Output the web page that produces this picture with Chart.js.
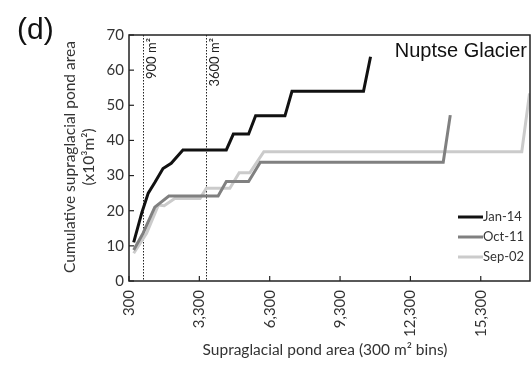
<!DOCTYPE html>
<html>
<head>
<meta charset="utf-8">
<script src="https://cdn.jsdelivr.net/npm/chart.js@4"></script>
<style>
  html, body { margin: 0; padding: 0; background: #fff; }
  canvas { display: block; }
</style>
</head>
<body>
<canvas id="pondChart" width="532" height="365"></canvas>
<script>
// 値は図から読み取ったもの（x: 池面積 m², y: 累積面積 x10³m²）
const janX = [500, 850, 1120, 1400, 1750, 2100, 2600, 4450, 4750, 5400, 5700, 6950, 7250, 10300, 10600];
const janY = [11, 19.5, 25, 28, 32, 33.5, 37.3, 37.3, 41.8, 41.8, 47, 47, 54, 54, 63.8];

const octX = [500, 900, 1400, 2000, 4100, 4450, 5400, 5900, 13700, 14000];
const octY = [8.8, 13.6, 21, 24.2, 24.2, 28.3, 28.3, 33.8, 33.8, 47.2];

const sepX = [500, 1050, 1550, 1800, 2250, 3330, 3600, 4600, 5000, 5450, 6050, 17050, 17380];
const sepY = [7.9, 13.6, 21.6, 21.4, 23.5, 23.5, 26.4, 26.4, 30.8, 30.8, 36.8, 36.8, 53.4];

const seriesNames = ['Jan-14', 'Oct-11', 'Sep-02'];
const xTicks = [300, 3300, 6300, 9300, 12300, 15300];
const refLines = [900, 3600];
const refLabels = ['900 m²', '3600 m²'];

const toPoints = (xs, ys) => xs.map((x, i) => ({ x: x, y: ys[i] }));

const FONT = 'Lato, "Open Sans", sans-serif';

/**
 * 枠線・内側目盛り・参照線・テキスト類
 */
const decorPlugin = {
    id: 'decor',
    beforeDatasetsDraw(chart) {
        const { ctx, chartArea: a, scales } = chart;
        ctx.save();
        // 参照線（点線）
        ctx.strokeStyle = '#222';
        ctx.lineWidth = 1;
        ctx.setLineDash([1.5, 1.5]);
        refLines.forEach(v => {
            const px = Math.round(scales.x.getPixelForValue(v)) + 0.5;
            ctx.beginPath();
            ctx.moveTo(px, a.top);
            ctx.lineTo(px, a.bottom);
            ctx.stroke();
        });
        ctx.setLineDash([]);
        // 参照線ラベル（縦書き）
        ctx.fillStyle = '#222';
        ctx.font = '13px ' + FONT;
        ctx.textAlign = 'right';
        ctx.textBaseline = 'top';
        refLines.forEach((v, i) => {
            const px = scales.x.getPixelForValue(v);
            ctx.save();
            ctx.translate(px + 2, a.top + 3);
            ctx.rotate(-Math.PI / 2);
            ctx.fillText(refLabels[i], 0, 0);
            ctx.restore();
        });
        ctx.restore();
    },
    afterDraw(chart) {
        const { ctx, chartArea: a, scales } = chart;
        ctx.save();
        // 枠
        ctx.strokeStyle = '#222';
        ctx.lineWidth = 1.5;
        ctx.strokeRect(a.left, a.top, a.right - a.left, a.bottom - a.top);
        // 内側の目盛り
        ctx.lineWidth = 1.2;
        xTicks.forEach(v => {
            const px = scales.x.getPixelForValue(v);
            ctx.beginPath();
            ctx.moveTo(px, a.bottom);
            ctx.lineTo(px, a.bottom - 5);
            ctx.stroke();
        });
        scales.y.ticks.forEach(t => {
            const py = scales.y.getPixelForValue(t.value);
            ctx.beginPath();
            ctx.moveTo(a.left, py);
            ctx.lineTo(a.left + 5, py);
            ctx.stroke();
        });

        // パネル記号とタイトル
        ctx.fillStyle = '#111';
        ctx.textBaseline = 'alphabetic';
        ctx.textAlign = 'left';
        ctx.font = '30px "Liberation Sans", Arial, sans-serif';
        ctx.fillText('(d)', 17, 39);
        ctx.textAlign = 'right';
        ctx.font = '20px "Liberation Sans", Arial, sans-serif';
        ctx.fillText('Nuptse Glacier', 527, 57);

        // 軸タイトル
        ctx.fillStyle = '#333';
        ctx.font = '15.5px ' + FONT;
        ctx.textAlign = 'center';
        ctx.textBaseline = 'middle';
        ctx.fillText('Supraglacial pond area (300 m² bins)', 325, 350);
        ctx.save();
        ctx.translate(70, 157);
        ctx.rotate(-Math.PI / 2);
        ctx.fillText('Cumulative supraglacial pond area', 0, 0);
        ctx.fillText('(x10³m²)', 0, 19);
        ctx.restore();

        // 凡例
        ctx.font = '13px ' + FONT;
        ctx.textAlign = 'left';
        chart.data.datasets.forEach((ds, i) => {
            const y = 217 + i * 20;
            ctx.strokeStyle = ds.borderColor;
            ctx.lineWidth = 3;
            ctx.beginPath();
            ctx.moveTo(458, y);
            ctx.lineTo(483, y);
            ctx.stroke();
            ctx.fillStyle = '#333';
            ctx.fillText(ds.label, 483, y);
        });
        ctx.restore();
    }
};

new Chart(document.getElementById('pondChart'), {
    type: 'line',
    data: {
        datasets: [
            { label: seriesNames[0], data: toPoints(janX, janY), borderColor: '#111111' },
            { label: seriesNames[1], data: toPoints(octX, octY), borderColor: '#808080' },
            { label: seriesNames[2], data: toPoints(sepX, sepY), borderColor: '#cbcbcb' }
        ].map(ds => Object.assign(ds, {
            borderWidth: 3,
            pointRadius: 0,
            tension: 0,
            fill: false
        }))
    },
    options: {
        responsive: false,
        animation: false,
        layout: { padding: { top: 35, right: 2, left: 0, bottom: 0 } },
        plugins: {
            legend: { display: false },
            tooltip: { enabled: false }
        },
        scales: {
            x: {
                type: 'linear',
                min: 300,
                max: 17400,
                afterBuildTicks: scale => { scale.ticks = xTicks.map(v => ({ value: v })); },
                afterFit: scale => { scale.height = 84; },
                grid: { display: false, drawTicks: false },
                border: { display: false },
                ticks: {
                    minRotation: 90,
                    maxRotation: 90,
                    padding: 9,
                    color: '#333',
                    font: { family: FONT, size: 15 },
                    callback: v => v.toLocaleString('en-US')
                }
            },
            y: {
                min: 0,
                max: 70,
                afterFit: scale => { scale.width = 129; },
                grid: { display: false, drawTicks: false },
                border: { display: false },
                ticks: {
                    stepSize: 10,
                    padding: 5,
                    color: '#333',
                    font: { family: FONT, size: 15 }
                }
            }
        }
    },
    plugins: [decorPlugin]
});
</script>
</body>
</html>
